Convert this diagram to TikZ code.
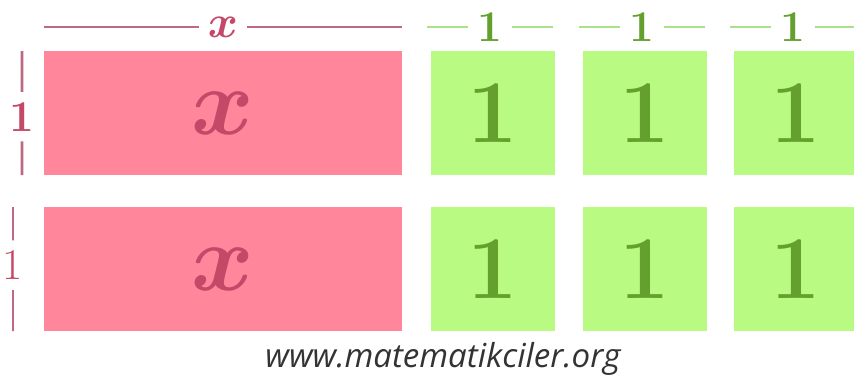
\documentclass[tikz,border=0pt]{standalone}
\usepackage{fix-cm}
\usepackage{tikz}
\usetikzlibrary{positioning,calc}
\usepackage{fontspec}
\newfontfamily\sitefont{Open Sans}
\usepackage{xcolor}
\definecolor{pinkfill}{RGB}{255,134,155}
\definecolor{pinkdark}{RGB}{196,72,104}
\definecolor{pinkline}{RGB}{190,105,130}
\definecolor{greenfill}{RGB}{185,250,130}
\definecolor{greendark}{RGB}{100,160,45}
\definecolor{greenline}{RGB}{172,225,140}
\tikzset{
  tile/.style={rectangle, draw=none, outer sep=0pt, inner sep=0pt, minimum height=2.48cm},
  xtile/.style={tile, fill=pinkfill, minimum width=7.16cm, text=pinkdark,
                font=\fontsize{54}{54}\selectfont\boldmath},
  unittile/.style={tile, fill=greenfill, minimum width=2.48cm, text=greendark,
                font=\fontsize{51}{51}\selectfont\bfseries},
  dimpink/.style={line width=1.5pt, pinkline},
  dimgreen/.style={line width=1.5pt, greenline},
  xlab/.style={text=pinkdark, inner xsep=0.17cm, font=\fontsize{26}{26}\selectfont\boldmath},
  onelab/.style={text=greendark, inner xsep=0.18cm, font=\fontsize{25}{25}\selectfont\bfseries},
  sidelab/.style={text=pinkdark, inner ysep=0.2cm, font=\fontsize{25}{25}\selectfont\bfseries},
  site/.style={text=black!80, font=\sitefont\itshape\fontsize{18.8}{18.8}\selectfont},
}

\begin{document}
\begin{tikzpicture}[node distance=0.56cm]
\useasboundingbox (0,0) rectangle (17.08,-7.62);

% tiles, row 1
\node[xtile, anchor=north west] (xa) at (0.88,-1.02) {$x$};
\node[unittile, right=0.58cm of xa] (ua1) {1};
\node[unittile, right=of ua1] (ua2) {1};
\node[unittile, right=0.54cm of ua2] (ua3) {1};
% tiles, row 2
\node[xtile, below=0.64cm of xa] (xb) {$x$};
\node[unittile, right=0.58cm of xb] (ub1) {1};
\node[unittile, right=of ub1] (ub2) {1};
\node[unittile, right=0.54cm of ub2] (ub3) {1};

% length of the x tile
\coordinate[above=0.48cm of xa.north west] (xL);
\coordinate[above=0.48cm of xa.north east] (xR);
\node[xlab] (xtop) at ($(xL)!0.5!(xR)$) {$x$};
\draw[dimpink] (xL) -- (xtop);
\draw[dimpink] (xtop) -- (xR);

% length of the unit tiles
\foreach \u in {ua1,ua2,ua3} {
  \coordinate[above=0.48cm of \u.north west, xshift=-0.08cm] (\u L);
  \coordinate[above=0.48cm of \u.north east, xshift=-0.04cm] (\u R);
  \node[onelab] (\u top) at ($(\u L)!0.5!(\u R)$) {1};
  \draw[dimgreen] (\u L) -- (\u top);
  \draw[dimgreen] (\u top) -- (\u R);
}

% heights of the rows
\coordinate[left=0.44cm of xa.north west] (haT);
\coordinate[left=0.44cm of xa.south west] (haB);
\node[sidelab] (hone) at ($(haT)!0.53!(haB)$) {1};
\draw[dimpink] (haT) -- (hone);
\draw[dimpink] (hone) -- (haB);
\coordinate[left=0.62cm of xb.north west] (hbT);
\coordinate[left=0.62cm of xb.south west] (hbB);
\node[sidelab, font=\fontsize{25}{25}\selectfont] (htwo) at ($(hbT)!0.47!(hbB)$) {1};
\draw[dimpink, line width=1pt] (hbT) -- (htwo);
\draw[dimpink, line width=1pt] (htwo) -- (hbB);

\node[site] (url) at (8.86,-7.18) {www.matematikciler.org};
\end{tikzpicture}
\end{document}
